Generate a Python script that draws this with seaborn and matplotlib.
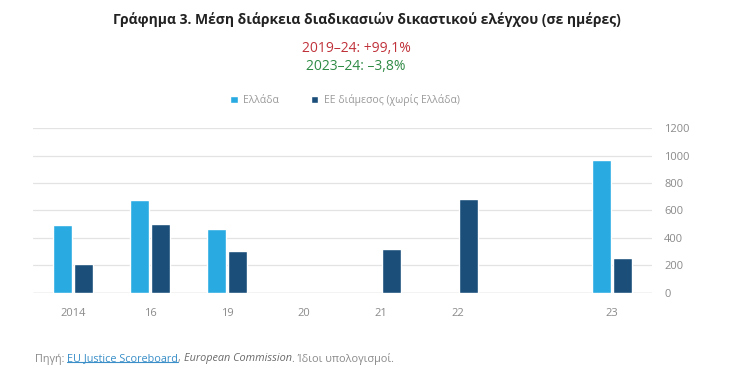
import numpy as np
import pandas as pd
import seaborn as sns
import matplotlib.pyplot as plt
from matplotlib.lines import Line2D

sns.set_theme(style="white")
plt.rcParams['font.family'] = ['Open Sans', 'Noto Sans', 'DejaVu Sans']

# --- data (days) ---
years = ["2014", "16", "19", "20", "21", "22", " ", "23"]
greece = [495, 675, 468, np.nan, np.nan, np.nan, np.nan, 967]
eu_median = [210, 500, 305, np.nan, 320, 684, np.nan, 254]
series_names = ["Ελλάδα", "ΕΕ διάμεσος (χωρίς Ελλάδα)"]
colors = ["#29ABE2", "#1B4F7A"]

df = pd.DataFrame({
    "year": years * 2,
    "series": [series_names[0]] * len(years) + [series_names[1]] * len(years),
    "value": greece + eu_median,
})

fig = plt.figure(figsize=(7.34, 3.88), dpi=100)
ax = fig.add_axes([0.045, 0.245, 0.843, 0.425])

sns.barplot(data=df, x="year", y="value", hue="series", order=years,
            hue_order=series_names, palette=colors, width=0.55, gap=0.1,
            saturation=1, ax=ax, legend=True)

ax.set_xlim(-0.52, 7.52)
ax.set_ylim(0, 1200)
ax.set_yticks(range(0, 1201, 200))
ax.yaxis.tick_right()
ax.grid(axis="y", color="#e3e3e3", linewidth=0.9)
ax.set_axisbelow(True)
for s in ax.spines.values():
    s.set_visible(False)
ax.axhline(0, color="#d5d5d5", linewidth=1.0, zorder=0)
ax.tick_params(axis="y", length=0, pad=9, labelsize=8, labelcolor="#8a8a8a")
ax.tick_params(axis="x", length=0, pad=11, labelsize=8, labelcolor="#8a8a8a")
for lab in ax.get_yticklabels():
    lab.set_horizontalalignment("left")
ax.set_xlabel("")
ax.set_ylabel("")

# legend
handles, labels = ax.get_legend_handles_labels()
ax.legend(handles, labels, loc="center", bbox_to_anchor=(345 / 734, 1 - 100 / 388),
          bbox_transform=fig.transFigure, ncol=2, frameon=False, fontsize=7.5,
          labelcolor="#9a9a9a", handlelength=0.75, handleheight=0.75,
          handletextpad=0.5, columnspacing=3.0)

# titles
fig.text(367 / 734, 1 - 20 / 388, "Γράφημα 3. Μέση διάρκεια διαδικασιών δικαστικού ελέγχου (σε ημέρες)",
         ha="center", va="center", fontsize=10, fontweight="bold", color="#222222")
fig.text(356 / 734, 1 - 49 / 388, "2019–24: +99,1%", ha="center", va="center",
         fontsize=10, color="#C0323A")
fig.text(356 / 734, 1 - 67 / 388, "2023–24: –3,8%", ha="center", va="center",
         fontsize=10, color="#2F8A45")

# source line, chained pieces
y_src = 1 - 359 / 388
t1 = fig.text(35 / 734, y_src, "Πηγή: ", fontsize=7.8, color="#8a8a8a", va="center")
t2 = fig.text(0, 0, "EU Justice Scoreboard", fontsize=7.8, color="#3a8fc8", va="center")
t3 = fig.text(0, 0, ", ", fontsize=7.8, color="#8a8a8a", va="center")
t4 = fig.text(0, 0, "European Commission", fontsize=7.8, color="#6a6a6a",
              style="italic", va="center")
t5 = fig.text(0, 0, ". Ίδιοι υπολογισμοί.", fontsize=7.8, color="#8a8a8a", va="center")

fig.canvas.draw()
r = fig.canvas.get_renderer()
prev = t1
for t in [t2, t3, t4, t5]:
    bb = prev.get_window_extent(r)
    t.set_position((bb.x1 / fig.bbox.width, y_src))
    fig.canvas.draw()
    prev = t
bb = t2.get_window_extent(r)
fig.add_artist(Line2D([bb.x0 / fig.bbox.width, bb.x1 / fig.bbox.width],
                      [(bb.y0 + 2.5) / fig.bbox.height] * 2, color="#3a8fc8",
                      linewidth=0.8, transform=fig.transFigure))

fig.savefig("out.png", dpi=100)
